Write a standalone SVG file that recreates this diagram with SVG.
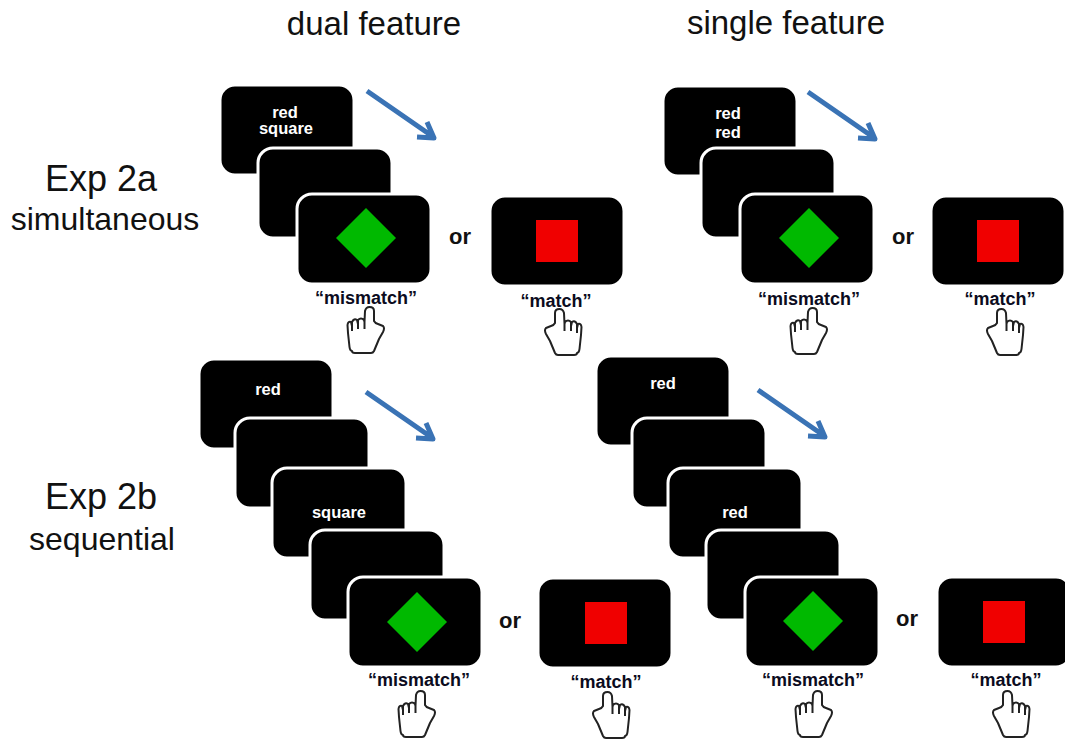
<svg xmlns="http://www.w3.org/2000/svg" width="1065" height="739" viewBox="0 0 1065 739">
<style>
text{font-family:"Liberation Sans",Arial,sans-serif;text-anchor:middle}
.h{font-size:33px;fill:#111}
.s{font-size:32px;fill:#111}
.e{font-size:36px;fill:#111}
.l{font-size:18px;font-weight:bold;fill:#0b0b20}
.o{font-size:22px;font-weight:bold;fill:#111}
.w{font-size:16.500px;font-weight:bold;fill:#fff}
.c{fill:#000;stroke:#fff;stroke-width:3}
.a{fill:none;stroke:#3a73b5;stroke-width:5;stroke-linejoin:round}
.g{fill:#00b900}.r{fill:#f00000}
.f{fill:#fff;stroke:#222;stroke-width:2;stroke-linejoin:round}
</style>
<defs>
<rect id="card" class="c" x="0" y="0" width="134" height="90" rx="15"/>
<polygon id="dia" class="g" points="0,-30 30,0 0,30 -30,0"/>
<rect id="sq" class="r" x="0" y="0" width="42" height="42"/>
<path id="arr" class="a" d="M0 0L65 45M50 46L67 47L60 31"/>
<path id="hand" class="f" d="M5 44Q3 44 2.500 40L1 26L0.500 18Q1 14 4 15L5 19L5 15Q7 11 10 13L11 17L11 13Q14 10 17 13L17.500 15L18 4Q19 0 22.500 0Q27 0 27 4L27 14Q28 16 31 17L36 19Q38 21 36 25L32 32L27 44Q26 46 24 46L8 46Q5 46 5 44ZM5 18L5 24M11 16L11 22M17.500 15L17.500 22"/>
</defs>
<g id="titles">
<text class="h" x="374" y="35">dual feature</text>
<text class="h" x="786" y="34">single feature</text>
<text class="e" x="101" y="191">Exp 2a</text>
<text class="s" x="105" y="230">simultaneous</text>
<text class="e" x="101" y="509">Exp 2b</text>
<text class="s" x="102" y="550">sequential</text>
</g>
<g id="connectors">
<use href="#arr" x="367" y="91"/>
<use href="#arr" x="808" y="92"/>
<use href="#arr" x="366" y="392"/>
<use href="#arr" x="758" y="390"/>
</g>
<g id="n1"><use href="#card" x="220" y="85"/><text class="w" x="285" y="118">red</text><text class="w" x="286" y="134">square</text></g>
<g id="n2"><use href="#card" x="258" y="148"/></g>
<g id="n3"><use href="#card" x="297" y="194"/><use href="#dia" x="366" y="238"/></g>
<g id="n4"><text class="l" x="366" y="304">“mismatch”</text><use href="#hand" x="347" y="307"/></g>
<g id="n5"><text class="o" x="460" y="244">or</text><use href="#card" x="490" y="196"/><use href="#sq" x="536" y="220"/><text class="l" x="556" y="307">“match”</text><use href="#hand" transform="translate(582,309) scale(-1,1)"/></g>
<g id="n6"><use href="#card" x="663" y="86"/><text class="w" x="728" y="119">red</text><text class="w" x="728" y="138">red</text></g>
<g id="n7"><use href="#card" x="701" y="148"/></g>
<g id="n8"><use href="#card" x="740" y="194"/><use href="#dia" x="809" y="238"/></g>
<g id="n9"><text class="l" x="809" y="305">“mismatch”</text><use href="#hand" x="790" y="308"/></g>
<g id="n10"><text class="o" x="903" y="244">or</text><use href="#card" x="931" y="196"/><use href="#sq" x="977" y="220"/><text class="l" x="1000" y="305">“match”</text><use href="#hand" transform="translate(1024,309) scale(-1,1)"/></g>
<g id="n11"><use href="#card" x="199" y="359"/><text class="w" x="268" y="395">red</text></g>
<g id="n12"><use href="#card" x="235" y="418"/></g>
<g id="n13"><use href="#card" x="272" y="468"/><text class="w" x="339" y="518">square</text></g>
<g id="n14"><use href="#card" x="310" y="530"/></g>
<g id="n15"><use href="#card" x="348" y="577"/><use href="#dia" x="417" y="622"/></g>
<g id="n16"><text class="l" x="419" y="686">“mismatch”</text><use href="#hand" x="398" y="691"/></g>
<g id="n17"><text class="o" x="510" y="628">or</text><use href="#card" x="538" y="578"/><use href="#sq" x="585" y="602"/><text class="l" x="606" y="688">“match”</text><use href="#hand" transform="translate(630,692) scale(-1,1)"/></g>
<g id="n18"><use href="#card" x="596" y="356"/><text class="w" x="663" y="389">red</text></g>
<g id="n19"><use href="#card" x="632" y="418"/></g>
<g id="n20"><use href="#card" x="668" y="468"/><text class="w" x="735" y="518">red</text></g>
<g id="n21"><use href="#card" x="706" y="530"/></g>
<g id="n22"><use href="#card" x="745" y="577"/><use href="#dia" x="813" y="621"/></g>
<g id="n23"><text class="l" x="813" y="686">“mismatch”</text><use href="#hand" x="795" y="691"/></g>
<g id="n24"><text class="o" x="907" y="626">or</text><use href="#card" x="937" y="577"/><use href="#sq" x="983" y="601"/><text class="l" x="1006" y="686">“match”</text><use href="#hand" transform="translate(1030,691) scale(-1,1)"/></g>
</svg>
